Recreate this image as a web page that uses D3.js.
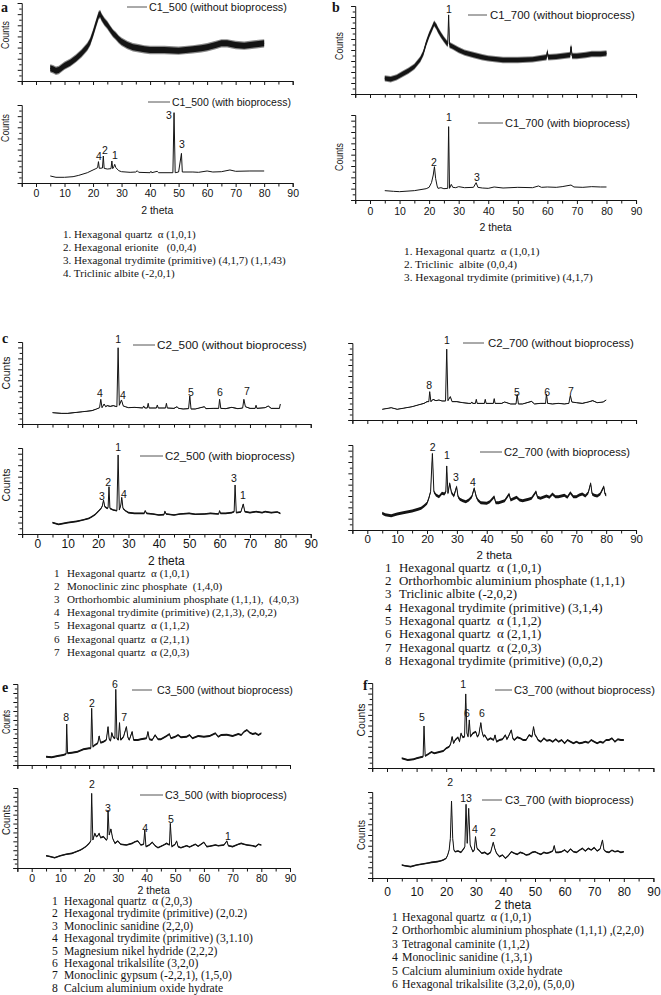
<!DOCTYPE html>
<html><head><meta charset="utf-8">
<script src="https://cdn.jsdelivr.net/npm/d3@7"></script>
<style>body{margin:0;background:#fff}svg{display:block}</style>
</head><body>
<svg id="c" width="661" height="995"></svg>
<script>
// ================= DATA =================
// x grid ticks (2 theta)
const xTickPositions = [-5,0,5,10,15,20,25,30,35,40,45,50,55,60,65,70,75,80,85,90];
const xTickLabels = [0,10,20,30,40,50,60,70,80,90];
const seriesNames = [
  "C1_500 (without bioprocess)", "C1_500 (with bioprocess)",
  "C1_700 (without bioprocess)", "C1_700 (with bioprocess)",
  "C2_500 (without bioprocess)", "C2_500 (with bioprocess)",
  "C2_700 (without bioprocess)", "C2_700 (with bioprocess)",
  "C3_500 (without bioprocess)", "C3_500 (with bioprocess)",
  "C3_700 (without bioprocess)", "C3_700 (with bioprocess)"
];
// [2theta, counts (a.u.)]
const c1_500_without = [[5,16.2],[6,15],[7,13.2],[8,14.1],[10,19.7],[12,23.5],[14,29],[16,35.5],[18,44],[19,50.4],[20,61],[21,73],[22,84.6],[22.5,85.9],[23,81.6],[24,76],[25,71.8],[26,66.2],[27,61.1],[28,57.7],[29,53.4],[30,50.4],[32,46.2],[34,43.2],[36,41.9],[38,40.6],[40,39.7],[45,39.7],[50,38.9],[55,40.6],[58,41.9],[60,43.2],[63,46.2],[65,48.3],[67,48.3],[70,46.2],[73,45.3],[75,46.2],[78,47.4],[80,48.3]];
const c1_500_with = [[5,9],[7,7.3],[10,7.3],[13,8.1],[15,9.8],[18,13.2],[20,16.7],[21,18.4],[21.6,19.7],[21.9,27.4],[22.2,18.8],[23.3,19.2],[23.6,34.6],[23.9,18.8],[25,17.9],[26.3,18.4],[26.6,28.2],[26.9,18.4],[27.3,20.9],[27.6,23.9],[28,19.7],[29,15.8],[30,14.5],[33,13.7],[35,14.1],[35.5,15.8],[36,13.7],[40,13.2],[40.3,15],[40.6,13.2],[42.5,15],[43,13.2],[48,13.2],[48.4,90.2],[48.8,13.2],[50,14.1],[51,38],[51.3,14.1],[55,14.1],[57,13.7],[60,15.4],[62,14.1],[65,14.5],[68,16.7],[70,15],[75,15.4],[80,15.4]];
const c1_700_without = [[5,17.8],[7,16.7],[9,18.9],[11,22.7],[13,26.5],[15,31.1],[17,39.4],[18,46.2],[19,57.6],[20,67],[21,74.6],[21.7,80.3],[22.5,76.5],[23,72.7],[24,67],[25,62.1],[26,57.6],[26.3,56.8],[26.6,89.8],[26.9,55.7],[28,53.8],[30,50],[32,47],[35,44.3],[38,41.7],[40,40.5],[45,38.6],[50,38.6],[55,39.4],[59.7,41.7],[60,48.1],[60.3,41.7],[63,42.4],[65,43.2],[67.7,44.3],[68,53.8],[68.4,43.2],[70,43.2],[73,44.3],[75,45.5],[78,45.5],[80,46.2]];
const c1_700_with = [[5,11],[8,10.2],[10,9.8],[15,11],[19,13.3],[20,14.9],[20.8,20.4],[21.4,29.4],[21.8,39.2],[22.2,25.5],[22.7,16.5],[23,13.7],[24,14.5],[25,13.3],[26.3,13.7],[26.6,86.3],[26.9,13.7],[27.5,18.4],[28,14.9],[29,14.5],[30,15.7],[32,14.5],[35,14.9],[35.9,20.4],[36.5,14.9],[38,14.1],[40,13.7],[42,15.3],[45,14.1],[50,14.9],[55,14.5],[57,16.5],[58,14.9],[60,15.3],[63,14.9],[65,15.7],[68,17.6],[69,15.3],[72,14.9],[75,15.7],[78,15.3],[80,15.3]];
const c2_500_without = [[5,13.8],[8,13],[10,13],[13,14.2],[15,15],[18,16.3],[19.5,18.3],[20.5,19.9],[20.9,30.1],[21.3,19.9],[22,24.4],[22.5,21.1],[23,22.4],[24,21.5],[25,22.4],[26.2,21.1],[26.6,93],[27,22.8],[27.7,29.3],[28.3,22],[29,21.1],[30,19.9],[32,20.3],[34.7,19.5],[35,22],[35.4,19.5],[36.2,19.5],[36.5,25.2],[36.8,19.5],[39.2,19.5],[39.5,23.2],[39.8,19.5],[42.2,19.5],[42.5,25.2],[42.8,19.5],[45,19.1],[46,21.1],[46.5,19.1],[48,18.3],[49.8,18.7],[50.2,34.1],[50.6,18.3],[52,18.3],[55,21.1],[55.5,18.7],[58,19.1],[59.7,19.1],[60,30.1],[60.4,19.1],[62,18.7],[64,20.3],[66,18.7],[67.6,19.5],[68,30.1],[68.5,21.1],[70,19.1],[71.7,19.1],[72,22.8],[72.3,19.1],[75,19.9],[76,22],[77,19.1],[79.7,19.1],[80,24.4]];
const c2_500_with = [[5,13.2],[7,11.2],[10,13.2],[13,14.7],[15,16.3],[17,18.2],[18,20.2],[19,22.5],[20,26],[21,29.8],[21.4,32.6],[21.8,39.5],[22.2,31.8],[23,29.8],[23.3,30.6],[23.6,55],[23.9,29.8],[25,27.9],[26.2,27.1],[26.6,91.9],[27,27.9],[27.5,33.7],[27.8,42.6],[28.2,29.8],[29,27.1],[30,24.8],[32,24],[34,24],[35.2,24],[35.5,27.1],[36,24],[38,23.3],[40,22.1],[41.7,22.5],[42,26.4],[42.4,23.3],[45,22.1],[47,23.3],[50,24],[52,22.9],[55,23.3],[57,24],[59.7,23.3],[60,27.1],[60.3,24],[62,24],[64,24.8],[64.8,26],[65.1,57],[65.5,24.8],[67,25.6],[67.8,34.9],[68.3,26],[70,24.8],[72,26],[74,24.8],[75,26],[77,24.8],[79,25.6],[80,24]];
const c2_700_without = [[5,13.9],[7,15.2],[8,16],[10,13.9],[12,15.2],[15,17.3],[17,19.5],[19,21.6],[20,23.8],[20.6,23.8],[20.9,36.8],[21.3,23.8],[22,26.8],[23,25.1],[24,26],[25,24.7],[26.2,24.7],[26.6,92],[27,25.1],[27.8,30.3],[28.4,23.8],[30,23.8],[32,22.5],[34,21.6],[34.7,21.6],[35,23.4],[35.3,21.6],[36.2,21.6],[36.5,26.8],[36.8,21.6],[39.2,21.6],[39.5,26.8],[39.8,21.6],[42.2,21.6],[42.5,27.7],[42.8,21.6],[45,21.6],[46,23.4],[48,20.8],[49.8,20.8],[50.2,33.3],[50.6,20.8],[52,20.8],[55,24.2],[56,20.8],[58,21.6],[59.7,21.6],[60,33.8],[60.4,21.6],[62,20.8],[64,21.6],[66,20.8],[67.5,21.6],[68,32],[68.5,23.4],[70,22.5],[72,21.6],[74,23.4],[75.5,25.1],[77,22.5],[79,23.4],[80,26]];
const c2_700_with = [[5,19.6],[6,18],[8,16.9],[10,18.8],[12,20.4],[15,22.4],[17,24.3],[18,25.5],[19,28.2],[20,31.4],[20.6,37.3],[21.2,45.1],[21.8,90],[22.3,45.1],[23,41.2],[24,39.2],[25,43.1],[25.8,42.4],[26.3,45.1],[26.6,75.3],[27,43.1],[27.6,54.9],[28.2,43.9],[29,40],[29.9,51],[30.4,39.2],[31,36.1],[32,34.5],[33,33.3],[34,35.3],[35,39.2],[35.8,49],[36.5,39.2],[37,35.3],[38,32.2],[40,31.4],[41,33.3],[42.5,39.2],[43,32.2],[44,32.2],[46,34.5],[47.5,42.4],[48,35.3],[50,38.4],[51,35.3],[52,34.5],[54,36.1],[55,37.3],[56.5,45.1],[57,38.4],[58,37.3],[60,40],[61,38.4],[62,42.4],[63,39.2],[64,39.2],[66,40.8],[67,38.4],[68,43.9],[69,39.2],[70,39.2],[71,41.2],[72,42.4],[73,40],[74,43.9],[74.8,54.9],[75.3,42.4],[76,40.8],[77,40],[78,42.4],[79.2,51],[79.6,42.4],[80,41.2]];
const c3_500_without = [[5,10.3],[7,9.5],[9,11.1],[11,12.3],[12,13.6],[12.2,50.6],[12.5,14.4],[14,15.2],[16,16.5],[18,19.3],[20,20.6],[20.6,20.6],[20.9,70],[21.3,22.6],[22,24.7],[23,26.7],[23.5,35.8],[24,27.6],[25,28.8],[26,30.9],[26.6,47.3],[27,31.7],[27.5,30],[27.9,39.9],[28.4,34.2],[29,32.9],[29.3,93.4],[29.7,32.9],[30.2,30.9],[30.6,52.3],[31,30.9],[32,35],[33,47.3],[33.5,34.2],[34,30.9],[35,41.2],[35.5,30.9],[37,30.9],[38,31.7],[40,32.9],[40.5,41.2],[41,31.7],[42,30.9],[43,37],[44,31.7],[45,31.7],[47,35.8],[48,38.3],[48.5,32.9],[50,35],[51,37],[52,34.2],[54,35],[55,37],[56,32.9],[58,35.8],[60,35],[62,35.8],[64,39.1],[65,35],[66,37],[68,37.4],[70,35.8],[72,38.3],[73,37],[74,41.2],[75,43.2],[76,39.9],[77,38.3],[78,39.1],[79,37],[80,39.1]];
const c3_500_with = [[5,15.4],[6,14.6],[8,12.9],[10,15.4],[12,17.1],[14,18.3],[15,19.6],[17,22.5],[18,24.6],[19,27.1],[20,30.8],[20.6,33.8],[20.9,93.3],[21.3,35],[22,43.3],[22.5,39.2],[23,40.4],[23.5,43.3],[24,37.9],[25,39.2],[26,35],[26.3,36],[26.6,72.5],[27,41.3],[27.6,48.8],[28.2,37.1],[29,30.8],[30,33.8],[31,29.6],[33,28.8],[35,30.8],[36,32.9],[37,33.8],[38,28.8],[39,29.6],[39.4,47.5],[39.8,26.7],[41,28.8],[42,32.1],[43,27.9],[44,25.4],[46,28.8],[47,30.8],[48,28.8],[48.3,55.8],[48.8,26.7],[50,29.6],[50.5,33.8],[51,26.7],[52,25.4],[54,27.9],[55,26.3],[57,29.6],[58,27.1],[60,32.1],[61,26.7],[62,27.1],[64,28.8],[65,27.9],[67,28.8],[68,33.8],[68.5,27.9],[70,26.7],[72,29.6],[73,30.8],[74,29.6],[75,28.8],[77,27.9],[78,26.7],[79,29.6],[80,28.8]];
const c3_700_without = [[5,11.4],[7,9.4],[9,10.2],[10,11.4],[12,13.3],[12.2,13.3],[12.5,49.4],[12.9,14.1],[14,16.5],[15,18.8],[16,17.3],[18,19.2],[19,20],[20,23.1],[21,25.1],[21.5,28.2],[22,36.9],[22.5,29],[23,32.9],[24,36.1],[24.5,31],[25,40.8],[25.6,36.1],[26.2,36.9],[26.6,87.1],[27,40.8],[27.4,36.9],[27.8,56.5],[28.2,36.9],[29,40.8],[30,42.7],[30.5,36.9],[31,38.8],[31.7,53.3],[32.1,42.7],[32.6,36.9],[33,38.8],[34,32.9],[35,34.9],[36,32.9],[36.5,38.8],[37,31],[38,32.9],[39,33.7],[40,38.8],[40.5,33.7],[41,36.9],[42,44.7],[42.5,34.9],[43,32.9],[44,36.1],[45,34.9],[46,32.9],[47,32.9],[48,38.8],[49,36.9],[49.5,48.6],[50,38.8],[50.5,36.9],[51,32.9],[52,31],[53,34.9],[54,32.2],[55,32.9],[56,31],[57,33.7],[58,31],[59,32.9],[60,29],[61,32.9],[62,31],[63,29],[64,31],[65,29],[66,29.8],[67,31],[68,29.8],[69,32.9],[70,31],[71,29],[72,31],[73,29.8],[74,32.9],[75,32.9],[76,34.9],[77,31],[78,33.7],[79,32.9],[80,32.9]];
const c3_700_with = [[5,15.1],[6,14.3],[8,13.2],[10,15.1],[12,16.3],[14,17.4],[15,18.2],[17,19],[18,19.8],[19,20.9],[20,22.9],[20.5,26.7],[21,32.6],[21.4,46.1],[21.8,89.5],[22.2,46.1],[22.6,32.6],[23,30.6],[24,31.4],[25,29.8],[26,34.5],[26.3,36.4],[26.7,85.7],[27.1,40.3],[27.6,81],[28.1,38.4],[29,30.6],[29.5,32.6],[29.9,48.1],[30.4,34.5],[31,32.6],[32,28.7],[33,29.8],[34,27.5],[35,29.8],[35.5,36.4],[35.9,41.5],[36.4,34.5],[37,28.7],[38,24.8],[39,26.7],[40,22.9],[41,26],[42,30.6],[43,28.7],[44,27.5],[45,29.8],[46,28.7],[47,26.7],[48,27.5],[49,29.8],[50,30.6],[51,28.7],[52,27.5],[53,29.8],[54,28.7],[55,29.8],[56,31.4],[56.5,37.6],[57,29.8],[58,29.8],[59,30.6],[60,32.6],[61,29.8],[62,33.7],[63,30.6],[64,29.8],[65,32.2],[66,34.5],[67,31.4],[68,34.5],[69,32.6],[70,35.3],[71,31.4],[72,33.7],[72.8,44.2],[73.3,32.6],[74,30.6],[75,29.8],[76,32.2],[77,30.6],[78,31.4],[79,29.8],[80,30.6]];

// peak labels: [2theta, counts, label]
const peaks_c1_500_without = [];
const peaks_c1_500_with = [[22.1,29.5,"4"],[24.2,37.2,"2"],[27.7,30.8,"1"],[46.6,82,"3"],[51.2,44.9,"3"]];
const peaks_c1_700_without = [[26.7,92,"1"]];
const peaks_c1_700_with = [[21.65,40,"2"],[26.7,92.9,"1"],[36.2,22.4,"3"]];
const peaks_c2_500_without = [[26.6,98.8,"1"],[20.6,32.9,"4"],[28.2,30.5,"4"],[50.6,34,"5"],[60.1,34,"6"],[69,35.4,"7"]];
const peaks_c2_500_with = [[21.3,39.5,"3"],[23.3,55.8,"2"],[26.6,96.5,"1"],[28.5,41.9,"4"],[64.7,60.5,"3"],[67.7,40.7,"1"]];
const peaks_c2_700_without = [[26.7,99,"1"],[20.7,40.3,"8"],[50.1,31.2,"5"],[60.2,31.2,"6"],[68.2,32.5,"7"]];
const peaks_c2_700_with = [[21.9,93,"2"],[26.7,83.5,"1"],[29.7,57.6,"3"],[35.4,51.8,"4"]];
const peaks_c3_500_without = [[12,54.3,"8"],[21,71.6,"2"],[29,95,"6"],[32.2,54.3,"7"]];
const peaks_c3_500_with = [[21,100,"2"],[26.6,70,"3"],[39.5,45,"4"],[48.5,56.3,"5"],[68.4,35,"1"]];
const peaks_c3_700_without = [[11.8,55.3,"5"],[25.7,94,"1"],[27,60,"6"],[32.1,60,"6"]];
const peaks_c3_700_with = [[21.3,107,"2"],[25.7,88.4,"1"],[27.7,88.4,"3"],[29.7,52.3,"4"],[35.8,48.8,"2"]];

// phase lists
const list_a = ["1. Hexagonal quartz  α (1,0,1)","2. Hexagonal erionite   (0,0,4)","3. Hexagonal trydimite (primitive) (4,1,7) (1,1,43)","4. Triclinic albite (-2,0,1)"];
const list_b = ["1. Hexagonal quartz  α (1,0,1)","2. Triclinic  albite (0,0,4)","3. Hexagonal trydimite (primitive) (4,1,7)"];
const list_c = ["Hexagonal quartz  α (1,0,1)","Monoclinic zinc phosphate  (1,4,0)","Orthorhombic aluminium phosphate (1,1,1),  (4,0,3)","Hexagonal trydimite (primitive) (2,1,3), (2,0,2)","Hexagonal quartz  α (1,1,2)","Hexagonal quartz  α (2,1,1)","Hexagonal quartz  α (2,0,3)"];
const list_d = ["Hexagonal quartz  α (1,0,1)","Orthorhombic aluminium phosphate (1,1,1)","Triclinic albite (-2,0,2)","Hexagonal trydimite (primitive) (3,1,4)","Hexagonal quartz  α (1,1,2)","Hexagonal quartz  α (2,1,1)","Hexagonal quartz  α (2,0,3)","Hexagonal trydimite (primitive) (0,0,2)"];
const list_e = ["Hexagonal quartz  α (2,0,3)","Hexagonal trydimite (primitive) (2,0.2)","Monoclinic sanidine (2,2,0)","Hexagonal trydimite (primitive) (3,1.10)","Magnesium nikel hydride (2,2,2)","Hexagonal trikalsilite (3,2,0)","Monoclinic gypsum (-2,2,1), (1,5,0)","Calcium aluminium oxide hydrate"];
const list_f = ["Hexagonal quartz  α (1,0,1)","Orthorhombic aluminium phosphate (1,1,1) ,(2,2,0)","Tetragonal caminite (1,1,2)","Monoclinic sanidine (1,3,1)","Calcium aluminium oxide hydrate","Hexagonal trikalsilite (3,2,0), (5,0,0)"];

// ================= LAYOUT =================
const SANS = "'Liberation Sans', Arial, Helvetica, sans-serif";
const SERIF = "'Liberation Serif', 'Times New Roman', serif";
const INK = "#141414";
const svg = d3.select("#c");

function fitSize(text, family, target, weight) {
  const t = svg.append("text").attr("font-family", family).attr("font-size", 20)
    .attr("font-weight", weight || "normal").style("white-space", "pre").text(text);
  const w = t.node().getComputedTextLength(); t.remove();
  return 20 * target / w;
}

const panels = [
  {letter:"a", lx:1, ly:12, x0:36, per10:28.52, fs:10.5, tickBase:197, thetaBase:214, ystep:5.5, cx:5.5,
   plots:[
     {ext:[3,81], data:c1_500_without, peaks:peaks_c1_500_without, name:0, band:3.0, fringe:4.2,
      leg:{x1:127,x2:147,y:7,tx:149,w:138}, counts:{y:35,w:28}},
     {ext:[105,183], data:c1_500_with, peaks:peaks_c1_500_with, name:1, band:0,
      leg:{x1:148,x2:170,y:102,tx:172,w:119}, counts:{y:128,w:28}}]},
  {letter:"b", lx:332, ly:12, x0:370, per10:29.56, fs:10.5, tickBase:215, thetaBase:231, ystep:5.6, cx:339,
   plots:[
     {ext:[6,94], data:c1_700_without, peaks:peaks_c1_700_without, name:2, band:2.2, fringe:3.2,
      leg:{x1:468,x2:487,y:15,tx:490,w:145}, counts:{y:46,w:28}},
     {ext:[115,200], data:c1_700_with, peaks:peaks_c1_700_with, name:3, band:0,
      leg:{x1:478,x2:503,y:123,tx:505,w:125}, counts:{y:157,w:28}}]},
  {letter:"c", lx:2, ly:343, x0:37.3, per10:30.38, fs:12, tickBase:548, thetaBase:565, ystep:5.6, cx:6,
   plots:[
     {ext:[342,424], data:c2_500_without, peaks:peaks_c2_500_without, name:4, band:0.3,
      leg:{x1:133,x2:155,y:345,tx:157,w:150}, counts:{y:373,w:33}},
     {ext:[448,534], data:c2_500_with, peaks:peaks_c2_500_with, name:5, band:0.8,
      leg:{x1:140,x2:163,y:456,tx:165,w:130}, counts:{y:485,w:33}}]},
  {letter:null, x0:367.3, per10:29.86, fs:11.5, tickBase:543, thetaBase:559, ystep:5.5,
   plots:[
     {ext:[343,420], data:c2_700_without, peaks:peaks_c2_700_without, name:6, band:0.3,
      leg:{x1:463,x2:484,y:343,tx:488,w:146}, counts:null},
     {ext:[445,530], data:c2_700_with, peaks:peaks_c2_700_with, name:7, band:1.5,
      leg:{x1:480,x2:502,y:452,tx:504,w:126}, counts:null}]},
  {letter:"e", lx:2, ly:692, x0:31.7, per10:28.7, fs:10.5, tickBase:882, thetaBase:894, ystep:4.5, cx:6,
   plots:[
     {ext:[684,765], data:c3_500_without, peaks:peaks_c3_500_without, name:8, band:1.0,
      leg:{x1:132,x2:152,y:690,tx:157,w:136}, counts:{y:722,w:24}},
     {ext:[788,868], data:c3_500_with, peaks:peaks_c3_500_with, name:9, band:0.8,
      leg:{x1:140,x2:163,y:795,tx:165,w:122}, counts:{y:820,w:30}}]},
  {letter:"f", lx:363, ly:690, x0:387, per10:29.6, fs:12, tickBase:896, thetaBase:909, ystep:5.3, cx:361,
   plots:[
     {ext:[683,768], data:c3_700_without, peaks:peaks_c3_700_without, name:10, band:1.0,
      leg:{x1:495,x2:512,y:690,tx:514,w:141}, counts:{y:720,w:33}},
     {ext:[792,878], data:c3_700_with, peaks:peaks_c3_700_with, name:11, band:0.8,
      leg:{x1:482,x2:502,y:800,tx:505,w:129}, counts:{y:835,w:30}}]}
];

panels.forEach(P => {
  const x = d3.scaleLinear().domain([-5, 90]).range([P.x0 - P.per10 / 2, P.x0 + 9 * P.per10]);
  if (P.letter) {
    svg.append("text").attr("x", P.lx).attr("y", P.ly).attr("font-family", SERIF)
      .attr("font-weight", "bold").attr("font-size", 14).attr("fill", INK).text(P.letter);
  }
  P.plots.forEach((pl, k) => {
    const isBottom = k === 1;
    const y = d3.scaleLinear().domain([0, 100]).range([pl.ext[1], pl.ext[0]]);
    const g = svg.append("g");
    // x axis
    const xa = d3.axisBottom(x).tickValues(xTickPositions).tickSizeOuter(0).tickSize(4)
      .tickFormat(d => (isBottom && xTickLabels.includes(d)) ? d : "");
    const gx = g.append("g").attr("transform", `translate(0,${pl.ext[1]})`).call(xa);
    gx.selectAll(".tick line").attr("stroke", INK).attr("y2", d => (d % 10 === 0) ? 4 : 3.5);
    gx.select(".domain").attr("stroke", INK);
    gx.selectAll("text").attr("y", P.tickBase - pl.ext[1]).attr("dy", 0)
      .attr("font-family", SANS).attr("font-size", P.fs).attr("fill", INK);
    // y axis
    const h = pl.ext[1] - pl.ext[0];
    const n = Math.round(h / P.ystep);
    const yTicks = d3.range(n + 1).map(i => i * 100 / n);
    const ya = d3.axisLeft(y).tickValues(yTicks).tickSizeOuter(0).tickSize(4).tickFormat("");
    const gy = g.append("g").attr("transform", `translate(${x(-5)},0)`).call(ya);
    gy.selectAll(".tick line").attr("stroke", INK).attr("x2", (d, i) => i % 2 ? -2.5 : -4);
    gy.select(".domain").attr("stroke", INK);
    // series
    if (pl.fringe) {
      g.append("path").datum(pl.data)
        .attr("d", d3.area().x(d => x(d[0])).y0(d => y(d[1]) + pl.fringe).y1(d => y(d[1]) - pl.fringe))
        .attr("fill", "#8a8a8a");
    }
    if (pl.band > 0) {
      g.append("path").datum(pl.data)
        .attr("d", d3.area().x(d => x(d[0])).y0(d => y(d[1]) + pl.band).y1(d => y(d[1]) - pl.band))
        .attr("fill", INK);
    }
    g.append("path").datum(pl.data)
      .attr("d", d3.line().x(d => x(d[0])).y(d => y(d[1])))
      .attr("fill", "none").attr("stroke", INK).attr("stroke-width", 1);
    // peak labels
    g.selectAll("text.pk").data(pl.peaks).join("text").attr("class", "pk")
      .attr("x", d => x(d[0])).attr("y", d => y(d[1])).attr("text-anchor", "middle")
      .attr("font-family", SANS).attr("font-size", 10.5).attr("fill", INK).text(d => d[2]);
    // legend
    const L = pl.leg;
    g.append("line").attr("x1", L.x1).attr("x2", L.x2).attr("y1", L.y).attr("y2", L.y)
      .attr("stroke", "#555").attr("stroke-width", 1);
    const lfs = fitSize(seriesNames[pl.name], SANS, L.w);
    g.append("text").attr("x", L.tx).attr("y", L.y + lfs * 0.36).attr("font-family", SANS)
      .attr("font-size", lfs).attr("fill", INK).text(seriesNames[pl.name]);
    // counts label
    if (pl.counts) {
      g.append("text").attr("transform", `translate(${P.cx},${pl.counts.y}) rotate(-90)`)
        .attr("text-anchor", "middle").attr("dy", "0.35em").attr("font-family", SANS)
        .attr("font-size", 10.5).attr("textLength", pl.counts.w).attr("lengthAdjust", "spacingAndGlyphs")
        .attr("fill", INK).text("Counts");
    }
    if (isBottom) {
      svg.append("text").attr("x", (x(-5) + x(90)) / 2).attr("y", P.thetaBase)
        .attr("text-anchor", "middle").attr("font-family", SANS).attr("font-size", P.fs)
        .attr("fill", INK).text("2 theta");
    }
  });
});

// phase lists
function drawList(items, opt) {
  const fs = fitSize(items[opt.fitIdx], SERIF, opt.fitW);
  items.forEach((s, i) => {
    const yy = opt.y0 + i * opt.dy;
    if (opt.numbered) {
      svg.append("text").attr("x", opt.nx).attr("y", yy).attr("font-family", SERIF)
        .attr("font-size", fs).attr("fill", INK).text(String(i + 1));
    }
    svg.append("text").attr("x", opt.tx).attr("y", yy).attr("font-family", SERIF)
      .attr("font-size", fs).attr("fill", INK).style("white-space", "pre").text(s);
  });
}
drawList(list_a, {tx:63, y0:238, dy:13, fitIdx:2, fitW:223});
drawList(list_b, {tx:404, y0:255, dy:12.8, fitIdx:2, fitW:189});
drawList(list_c, {numbered:true, nx:54, tx:67, y0:577, dy:13.1, fitIdx:3, fitW:210});
drawList(list_d, {numbered:true, nx:385, tx:399, y0:571.7, dy:13.3, fitIdx:1, fitW:226});
drawList(list_e, {numbered:true, nx:52, tx:64, y0:905, dy:12.4, fitIdx:3, fitW:189});
drawList(list_f, {numbered:true, nx:392, tx:402, y0:921, dy:13.4, fitIdx:1, fitW:242});
</script>
</body></html>
